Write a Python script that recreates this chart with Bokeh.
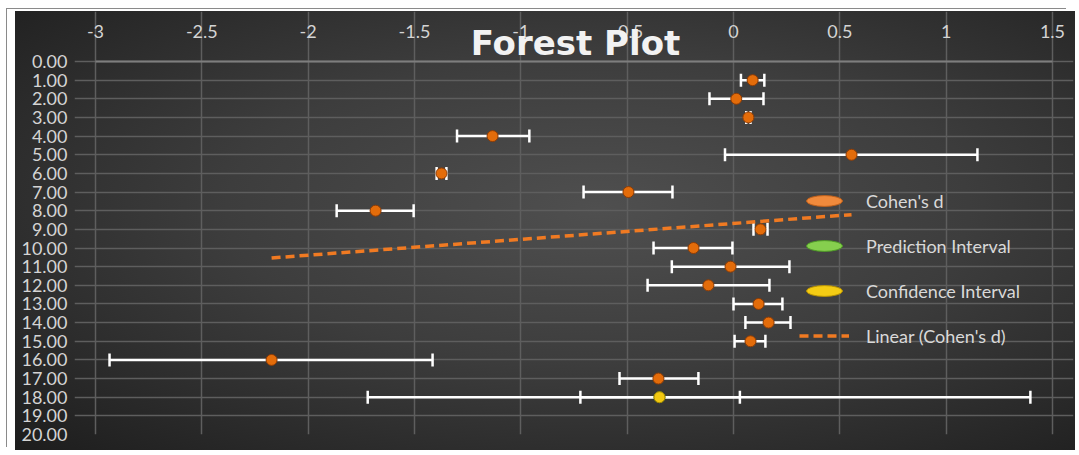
import numpy as np
from bokeh.plotting import figure
from bokeh.models import (ColumnDataSource, Whisker, TeeHead, Range1d,
                          NumeralTickFormatter, Legend, LegendItem, Label)
from bokeh.embed import file_html
from bokeh.resources import INLINE

# ---- data -------------------------------------------------------------
study_rows = list(range(1, 18))
cohens_d = [0.09, 0.013, 0.07, -1.133, 0.555, -1.373, -0.494, -1.683, 0.127,
            -0.188, -0.014, -0.118, 0.118, 0.165, 0.08, -2.172, -0.353]
ci_lower = [0.035, -0.113, 0.06, -1.30, -0.04, -1.396, -0.705, -1.866, 0.094,
            -0.376, -0.29, -0.404, 0.0, 0.056, 0.005, -2.934, -0.536]
ci_upper = [0.145, 0.141, 0.08, -0.96, 1.147, -1.35, -0.287, -1.504, 0.16,
            -0.005, 0.263, 0.169, 0.23, 0.268, 0.15, -1.415, -0.165]

summary_row = [18]
summary_d = [-0.348]
summary_ci_lower = [-0.72]
summary_ci_upper = [0.03]
summary_pi_lower = [-1.72]
summary_pi_upper = [1.396]

x_ticks = [-3, -2.5, -2, -1.5, -1, -0.5, 0, 0.5, 1, 1.5]
x_tick_labels = ["-3", "-2.5", "-2", "-1.5", "-1", "-0.5", "0", "0.5", "1", "1.5"]
y_ticks = list(range(0, 21))
x_min, x_max = -3, 1.5
y_min, y_max = 0, 20

# linear trendline (Excel style: row regressed on Cohen's d)
slope, intercept = np.polyfit(cohens_d, study_rows, 1)
trend_x = [min(cohens_d), max(cohens_d)]
trend_y = [slope * v + intercept for v in trend_x]

# ---- layout (pixels) --------------------------------------------------
W, H = 1060, 439
AREA_LEFT, AREA_RIGHT = 80, 1037   # pixel columns of x_min / x_max
BOTTOM = 16
AXIS_TOP = 50                      # pixel row of the "0.00" line
PAD_PX = 21                        # room so the end tick labels are not cut
px_per_x = (AREA_RIGHT - AREA_LEFT) / (x_max - x_min)
x_pad = PAD_PX / px_per_x
frame_h = H - BOTTOM
px_per_row = (frame_h - AXIS_TOP) / (y_max - y_min)
top_extra = AXIS_TOP / px_per_row

FONT = "Lato"
p = figure(width=W, height=H, output_backend="svg", toolbar_location=None,
           x_range=Range1d(x_min - x_pad, x_max + x_pad),
           y_range=Range1d(y_max, y_min - top_extra),
           x_axis_location="above",
           min_border_left=AREA_LEFT - PAD_PX,
           min_border_right=W - AREA_RIGHT - PAD_PX,
           min_border_top=0, min_border_bottom=BOTTOM)
p.background_fill_alpha = 0
p.border_fill_alpha = 0
p.outline_line_color = None
p.styles = {"background": "radial-gradient(ellipse at 55% 45%, #4f4f4f 0%, "
                          "#3d3d3d 45%, #1d1d1d 100%)",
            "margin-left": "15px", "margin-top": "11px",
            "box-shadow": "-8px -2px 0 0 #ffffff, -9px -3px 0 0 #8a8a8a"}

p.xaxis.fixed_location = y_min
p.xaxis.bounds = (x_min, x_max)
p.xaxis.ticker = x_ticks
p.xaxis.major_label_overrides = {t: s for t, s in zip(x_ticks, x_tick_labels)}
p.yaxis.ticker = y_ticks
p.yaxis.formatter = NumeralTickFormatter(format="0.00")
for ax in (p.xaxis, p.yaxis):
    ax.major_tick_line_color = None
    ax.minor_tick_line_color = None
    ax.major_label_text_color = "#d4d4d4"
    ax.major_label_text_font = FONT
    ax.major_label_text_font_size = "18px"
p.yaxis.axis_line_color = None
p.xaxis.axis_line_color = "#7e7e7e"
p.xaxis.axis_line_width = 2
p.xaxis.major_label_standoff = 18
p.yaxis.major_label_standoff = 22 - PAD_PX

p.grid.grid_line_color = "#5e5e5e"
p.grid.grid_line_width = 1.5
p.xgrid.bounds = (y_min, y_max)
p.ygrid.bounds = (x_min, x_max)

# ---- study intervals --------------------------------------------------
def tee():
    return TeeHead(size=13, line_color="white", line_width=2.5)

src = ColumnDataSource(dict(row=study_rows, d=cohens_d, lo=ci_lower, hi=ci_upper))
p.add_layout(Whisker(source=src, base="row", lower="lo", upper="hi",
                     dimension="width", line_color="white", line_width=2.5,
                     lower_head=tee(), upper_head=tee()))

# ---- summary intervals ------------------------------------------------
ssrc = ColumnDataSource(dict(row=summary_row, d=summary_d,
                             cil=summary_ci_lower, ciu=summary_ci_upper,
                             pil=summary_pi_lower, piu=summary_pi_upper))
p.add_layout(Whisker(source=ssrc, base="row", lower="pil", upper="piu",
                     dimension="width", line_color="white", line_width=2.5,
                     lower_head=tee(), upper_head=tee()))
p.add_layout(Whisker(source=ssrc, base="row", lower="cil", upper="ciu",
                     dimension="width", line_color="white", line_width=2.5,
                     lower_head=tee(), upper_head=tee()))

# trendline
trend = p.line(trend_x, trend_y, line_color="#F07A22", line_width=3.5,
               line_dash="9 5")

# points
p.scatter("d", "row", source=src, size=11, fill_color="#E36C0A",
          line_color="#8E3C05", line_width=1)
p.scatter("d", "row", source=ssrc, size=11, fill_color="#7DC646",
          line_color="#4C8A22", line_width=1)
p.scatter("d", "row", source=ssrc, size=11, fill_color="#F2C811",
          line_color="#A88600", line_width=1)

# legend proxies (not drawn in the plot area)
def proxy(fill, line):
    return p.ellipse(x="x", y="y", source=ColumnDataSource(dict(x=[np.nan], y=[np.nan])),
                     width=40, height=12, width_units="screen", height_units="screen",
                     fill_color=fill, line_color=line)

e_d = proxy("#F08A3C", "#C0601A")
e_pi = proxy("#86CF4E", "#4E9A26")
e_ci = proxy("#F4CC14", "#B89200")

legend = Legend(items=[LegendItem(label="Cohen's d", renderers=[e_d]),
                       LegendItem(label="Prediction Interval", renderers=[e_pi]),
                       LegendItem(label="Confidence Interval", renderers=[e_ci]),
                       LegendItem(label="Linear (Cohen's d)", renderers=[trend])],
                location=(704 + PAD_PX, 76), glyph_width=50, glyph_height=45,
                label_standoff=17, spacing=0, padding=0, margin=0,
                background_fill_alpha=0, border_line_color=None,
                label_text_color="#d9d9d9", label_text_font=FONT,
                label_text_font_size="18px")
p.add_layout(legend)

# chart title overlapping the top axis labels, as in the original
p.add_layout(Label(x=480 + PAD_PX, y=frame_h - 31, x_units="screen", y_units="screen",
                   text="Forest Plot", text_font="DejaVu Sans", text_font_size="34px",
                   text_font_style="bold", text_color="#f2f2f2",
                   text_align="center", text_baseline="alphabetic"))

open("out.html", "w").write(file_html(p, INLINE))
